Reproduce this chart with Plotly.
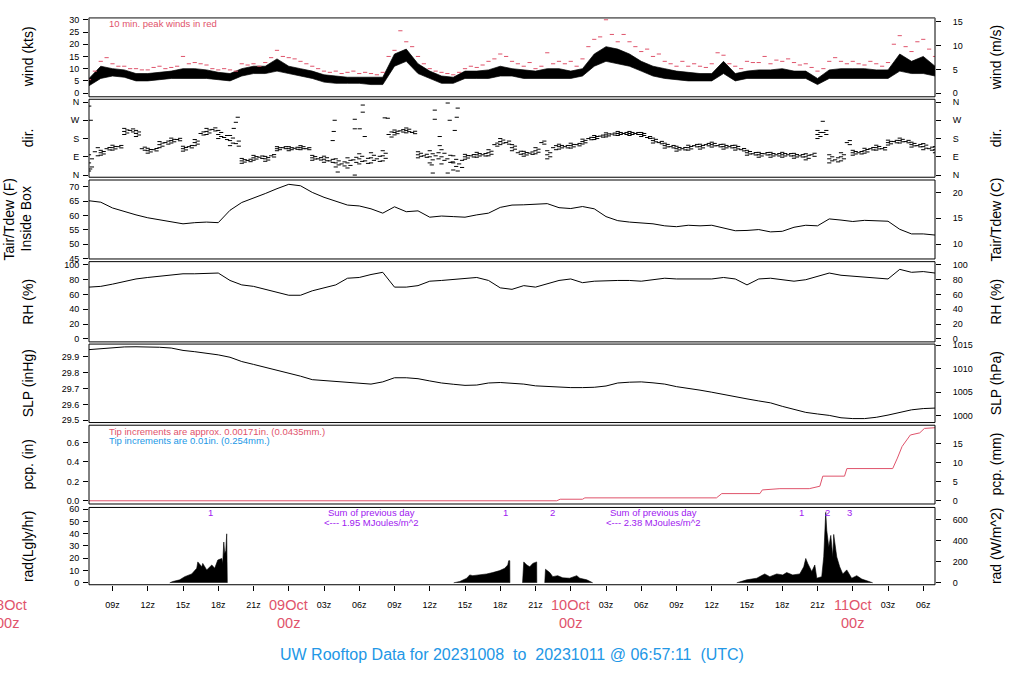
import plotly.graph_objects as go

# ---------------- data (hours after 2023-10-08 00z) ----------------
hours = list(range(7, 80))                      # hourly samples
half_hours = [7 + 0.5 * i for i in range(145)]  # 30-min samples

# wind speed band (kts): lower / upper edge of the 1-min trace
wind_lo = [3, 6, 7, 6.5, 5, 5, 5.5, 6, 6, 6, 6, 5.5, 5, 7, 8, 8, 9, 8, 7, 6, 4.5, 4, 4, 4, 3.5, 3.5,
           11, 13, 8, 6, 4, 4, 6, 6, 6, 7, 7, 6, 6, 6, 6, 6, 7, 11, 13, 12, 11, 9, 7, 6, 5.5, 5, 5, 5,
           8, 5, 6, 6, 6, 6, 6, 6, 3.5, 6, 6, 6, 6, 6, 6, 9, 8, 8, 7]
wind_hi = [6, 11, 10, 9.5, 8, 8, 8.5, 9, 10, 10, 9.5, 8.5, 8, 10, 11, 11, 14, 11, 10, 9, 7.5, 7, 6.5,
           6.5, 6.5, 6.5, 16, 18, 12, 9, 7, 6.5, 9, 9, 9.5, 11, 10, 9.5, 9, 10, 10, 9, 10, 16, 19, 18,
           16, 13, 11, 10, 9, 8.5, 8, 8, 13, 8, 9, 9.5, 9.5, 10, 9, 9, 6, 9.5, 10, 10, 10, 9.5, 9.5,
           16, 13, 15, 11]
# 10-min peak winds (kts), every 30 min
wind_peak = [5.5, 9, 13, 14.5, 12, 11, 11, 10, 10, 9.5, 9.5, 10.5, 11, 10, 10.5, 11, 15, 12, 12.5, 12,
             11.5, 10, 9.5, 10, 9.5, 9, 12, 11.5, 12, 11, 12.5, 14.5, 17.5, 15, 14.5, 14, 13, 12, 11, 10,
             9, 8.5, 9, 8, 8.5, 9, 8, 8.5, 8, 7.5, 8.5, 15, 17.5, 25.5, 21, 19, 15, 12, 10, 9, 8.5, 8,
             7.5, 8.5, 10, 11, 10.5, 11.5, 13, 14, 16, 15, 13, 12, 11, 12.5, 10, 11, 16.5, 12, 13, 12,
             13, 11, 14, 19, 22, 23, 30, 24, 21, 24, 21, 19, 17, 18, 15, 16, 13, 12, 11, 13, 11, 12, 11,
             10.5, 12, 16.5, 15.5, 12, 11, 10, 13, 12.5, 12.5, 15, 12, 13.5, 13, 14, 12.5, 11.5, 12,
             10.5, 9, 10, 13, 14.5, 13, 12, 13, 12, 11.5, 13, 12, 11, 12.5, 20, 23.5, 19, 17, 21, 22,
             18, 15]

# wind direction (deg), centre of the scatter every 30 min, and its hourly half-spread
dir_mid = [60, 115, 110, 130, 135, 140, 215, 220, 205, 130, 120, 125, 150, 160, 170, 175, 130, 140,
           160, 205, 215, 225, 200, 185, 170, 155, 70, 72, 85, 88, 80, 95, 130, 135, 130, 132, 135,
           130, 85, 80, 78, 70, 60, 55, 60, 75, 80, 70, 85, 80, 95, 200, 210, 218, 220, 210, 100, 95,
           90, 95, 90, 80, 60, 55, 90, 95, 100, 100, 110, 150, 165, 160, 135, 110, 105, 108, 120, 160,
           100, 135, 140, 140, 145, 150, 165, 180, 185, 192, 198, 202, 205, 205, 205, 205, 200, 185,
           170, 160, 145, 140, 130, 130, 135, 145, 140, 150, 150, 145, 140, 140, 135, 125, 110, 105,
           100, 105, 100, 100, 100, 100, 95, 95, 90, 100, 200, 210, 80, 75, 90, 160, 110, 110, 120,
           130, 135, 130, 160, 165, 170, 165, 150, 145, 140, 130, 125]
dir_spread = [40, 12, 12, 15, 15, 12, 15, 12, 12, 15, 15, 20, 25, 12, 12, 12, 10, 10, 10, 12, 15, 20,
              25, 25, 25, 25, 12, 12, 15, 30, 35, 35, 12, 12, 15, 15, 15, 12, 15, 20, 12, 12, 12, 10,
              10, 10, 10, 10, 12, 12, 12, 12, 12, 12, 12, 12, 12, 12, 12, 12, 12, 15, 20, 20, 20, 12,
              12, 12, 12, 12, 12, 15, 15]
dir_out_h = [7.02, 7.1, 7.15, 19.32, 19.5, 19.66, 27.74, 27.83, 27.91, 28.17, 29.62, 29.62, 29.62,
             30.04, 30.3, 30.3, 30.47, 32.17, 32.43, 36.17, 36.26, 36.43, 36.43, 36.85, 36.85, 37.53,
             37.53, 37.7, 37.96, 38.13, 38.38, 38.38, 38.3, 69.45]
dir_out_d = [340, 30, 270, 230, 260, 285, 170, 215, 270, 15, 275, 228, 0, 228, 345, 310, 190, 282,
             280, 50, 10, 320, 275, 190, 145, 355, 10, 270, 65, 220, 330, 20, 285, 265]

# air temperature inside box (F), hourly
tair_f = [65.1, 64.6, 62.6, 61.3, 60.2, 59.2, 58.5, 58.0, 57.1, 57.5, 57.7, 57.5, 61.8, 64.5, 66.0,
          67.6, 69.3, 70.8, 70.3, 68.0, 66.3, 65.0, 63.6, 63.3, 62.3, 60.8, 63.0, 61.3, 61.6, 59.4,
          59.8, 59.6, 59.4, 60.2, 60.8, 62.8, 63.6, 63.7, 64.0, 64.1, 62.7, 62.4, 63.1, 62.3, 59.6,
          58.2, 57.7, 57.3, 57.1, 56.4, 56.1, 56.6, 56.4, 56.6, 55.7, 54.7, 54.8, 55.1, 54.3, 54.5,
          55.9, 56.6, 56.4, 58.8, 58.4, 57.9, 58.3, 58.2, 58.0, 55.2, 53.6, 53.6, 53.2]
# relative humidity (%), hourly
rh = [70, 71, 74, 78, 81, 83, 85, 86, 88, 88, 89, 89, 79, 73, 71, 67, 63, 59, 59, 65, 69, 73, 82, 83,
      87, 90, 70, 70, 72, 78, 79, 80, 82, 83, 79, 69, 67, 72, 70, 74, 79, 81, 76, 78, 79, 79, 79, 78,
      80, 82, 81, 81, 81, 81, 83, 81, 73, 81, 82, 80, 78, 80, 84, 89, 86, 85, 83, 82, 81, 94, 90, 91, 89]
# sea-level pressure (inHg), hourly
slp = [29.945, 29.952, 29.958, 29.962, 29.963, 29.962, 29.960, 29.955, 29.940, 29.932, 29.922,
       29.912, 29.897, 29.870, 29.852, 29.834, 29.818, 29.800, 29.778, 29.756, 29.750, 29.742,
       29.737, 29.732, 29.728, 29.742, 29.768, 29.768, 29.762, 29.748, 29.735, 29.727, 29.720,
       29.722, 29.735, 29.738, 29.735, 29.728, 29.717, 29.712, 29.707, 29.706, 29.706, 29.708,
       29.716, 29.735, 29.740, 29.742, 29.736, 29.728, 29.712, 29.703, 29.690, 29.677, 29.662,
       29.648, 29.635, 29.622, 29.610, 29.588, 29.567, 29.550, 29.540, 29.531, 29.516, 29.511,
       29.511, 29.519, 29.533, 29.550, 29.566, 29.574, 29.577]
# accumulated precipitation (in)
pcp_h = [7, 46.8, 47.1, 49.0, 49.2, 60.4, 60.85, 64.1, 64.3, 65.8, 68.3, 69.0, 69.2, 69.45, 71.3,
         71.5, 75.4, 75.8, 76.2, 76.9, 77.7, 78.1, 79]
pcp_in = [0, 0, 0.016, 0.016, 0.03, 0.03, 0.074, 0.074, 0.112, 0.125, 0.125, 0.142, 0.150, 0.254,
          0.254, 0.332, 0.332, 0.44, 0.56, 0.678, 0.70, 0.746, 0.753]
# solar radiation (Langley/hr); None separates the sunlit stretches
rad_h = [13.87, 14.13, 14.72, 15.15, 15.74, 16.17, 16.26, 16.6, 16.68, 17.02, 17.45, 17.7, 17.96,
         18.3, 18.38, 18.47, 18.55, 18.64, 18.72, 18.77, None,
         38.04, 38.55, 39.15, 39.4, 39.66, 40.26, 40.85, 41.36, 41.96, 42.38, 42.64, 42.72, 42.81, 42.82, None,
         43.9, 43.95, 44.0, 44.26, 44.51, 44.77, 45.02, 45.1, 45.11, None,
         45.79, 45.85, 46.21, 46.47, 46.89, 47.32, 47.91, 48.51, 48.77, 49.36, 49.87, None,
         62.13, 62.98, 63.83, 64.51, 64.94, 65.53, 66.04, 66.38, 66.89, 67.49, 67.83, 68.0, 68.17,
         68.51, 68.77, 68.94, 69.36, 69.53, 69.7, 69.79, 69.96, 70.13, 70.3, 70.38, 70.64, 70.89,
         71.15, 71.49, 71.91, 72.34, 72.77, 73.7]
rad_v = [0, 1, 2.4, 5, 7.2, 11.8, 17, 13, 15.8, 10.5, 14.5, 11.8, 18.5, 19.8, 15.8, 33.2, 23.8, 26,
         39.9, 0, None,
         0, 1, 3.7, 6.4, 5.8, 6.4, 7.2, 8.3, 9.9, 11.8, 14.5, 18, 18, 0, None,
         0, 17, 17, 14.5, 13, 15.8, 17, 17, 0, None,
         0, 11, 8.3, 5, 5.8, 4, 3.7, 5.8, 3.7, 2.4, 0, None,
         0, 2.4, 3.7, 7.2, 5, 7.2, 6.4, 8.3, 6.4, 7.2, 13, 19.8, 15.8, 9.1, 14.5, 3.7, 5, 21.2, 57.4,
         42.6, 29.2, 38.6, 21, 39.4, 21, 13, 7.2, 10.5, 3.7, 5.8, 3, 0]
# radiation annotations: marker numbers and daily sums
rad_mark_h = [17.36, 42.44, 46.41, 67.63, 69.81, 71.69]
rad_mark_txt = ["1", "1", "2", "1", "2", "3"]
rad_sum_h = [31.0, 55.0]
rad_sum_txt = ["1.95", "2.38"]

x_tick_h = list(range(9, 79, 3))
day_h = [0, 24, 48, 72]
day_txt = ["08Oct", "09Oct", "10Oct", "11Oct"]

# ---------------- layout helpers ----------------
W, H = 1024, 700
X0, X1 = 89, 935
FONT = "Liberation Sans, Arial, Helvetica, sans-serif"
RED = "#DF536B"
BLUE = "#2297E6"
PURPLE = "#A020F0"


def px(x):
    return x / W


def py(y):
    return 1 - y / H


panels = [(14, 94), (96.5, 175.5), (178.3, 258.3), (261, 342.3), (344.5, 424), (426.7, 506.5),
          (510, 588.3)]
left_rng = [(-1.5, 30.8), (-10.7, 373.6), (44.9, 72.3), (-4, 104.4), (29.486, 29.98),
            (-0.033, 0.779), (-1.6, 61.4)]
convs = [lambda v: v * 0.514444, lambda v: v, lambda v: (v - 32) * 5 / 9, lambda v: v,
         lambda v: v * 33.8639, lambda v: v * 25.4, lambda v: v * 11.63]
left_ticks = [
    ([0, 5, 10, 15, 20, 25, 30], None),
    ([0, 90, 180, 270, 360], ["N", "E", "S", "W", "N"]),
    ([45, 50, 55, 60, 65, 70], None),
    ([0, 20, 40, 60, 80, 100], None),
    ([29.5, 29.6, 29.7, 29.8, 29.9], ["29.5", "29.6", "29.7", "29.8", "29.9"]),
    ([0, 0.2, 0.4, 0.6], ["0.0", "0.2", "0.4", "0.6"]),
    ([0, 10, 20, 30, 40, 50, 60], None),
]
right_ticks = [
    ([0, 5, 10, 15], None),
    ([0, 90, 180, 270, 360], ["N", "E", "S", "W", "N"]),
    ([10, 15, 20], None),
    ([0, 20, 40, 60, 80, 100], None),
    ([1000, 1005, 1010, 1015], None),
    ([0, 5, 10, 15], None),
    ([0, 200, 400, 600], None),
]
left_titles = ["wind (kts)", "dir.", None, "RH (%)", "SLP (inHg)", "pcp. (in)", "rad(Lgly/hr)"]
right_titles = ["wind (m/s)", "dir.", "Tair/Tdew (C)", "RH (%)", "SLP (hPa)", "pcp. (mm)",
                "rad (W/m^2)"]


def yref(i, right=False):
    n = 2 * i + 1 + (1 if right else 0)
    return "y" if n == 1 else f"y{n}"


fig = go.Figure()
skip = dict(hoverinfo="skip", showlegend=False)

# wind
fig.add_trace(go.Scatter(x=hours, y=wind_lo, mode="lines", line=dict(color="black", width=0.7),
                         yaxis=yref(0), **skip))
fig.add_trace(go.Scatter(x=hours, y=wind_hi, mode="lines", line=dict(color="black", width=0.7),
                         fill="tonexty", fillcolor="black", yaxis=yref(0), **skip))
fig.add_trace(go.Scatter(x=half_hours, y=wind_peak, mode="markers", yaxis=yref(0),
                         marker=dict(symbol="line-ew", size=3, line=dict(color=RED, width=1)),
                         **skip))

# direction
dash = dict(symbol="line-ew", size=3, line=dict(color="black", width=1))
fig.add_trace(go.Scatter(x=half_hours, y=dir_mid, mode="markers", marker=dash, yaxis=yref(1), **skip))
dir_hour_mid = dir_mid[::2]
fig.add_trace(go.Scatter(x=hours, y=[m + s for m, s in zip(dir_hour_mid, dir_spread)], mode="markers",
                         marker=dash, yaxis=yref(1), **skip))
fig.add_trace(go.Scatter(x=hours, y=[m - s for m, s in zip(dir_hour_mid, dir_spread)], mode="markers",
                         marker=dash, yaxis=yref(1), **skip))
half_spread = [dir_spread[min(i // 2, len(dir_spread) - 1)] / 2 for i in range(len(dir_mid))]
fig.add_trace(go.Scatter(x=[h + 0.25 for h in half_hours], y=[m + s for m, s in zip(dir_mid, half_spread)],
                         mode="markers", marker=dash, yaxis=yref(1), **skip))
fig.add_trace(go.Scatter(x=[h + 0.25 for h in half_hours], y=[m - s for m, s in zip(dir_mid, half_spread)],
                         mode="markers", marker=dash, yaxis=yref(1), **skip))
fig.add_trace(go.Scatter(x=dir_out_h, y=dir_out_d, mode="markers", marker=dash, yaxis=yref(1), **skip))

# temperature, RH, SLP
line = dict(color="black", width=1)
fig.add_trace(go.Scatter(x=hours, y=tair_f, mode="lines", line=line, yaxis=yref(2), **skip))
fig.add_trace(go.Scatter(x=hours, y=rh, mode="lines", line=line, yaxis=yref(3), **skip))
fig.add_trace(go.Scatter(x=hours, y=slp, mode="lines", line=line, yaxis=yref(4), **skip))
# precipitation
fig.add_trace(go.Scatter(x=pcp_h, y=pcp_in, mode="lines", line=dict(color=RED, width=1),
                         yaxis=yref(5), **skip))
# radiation (one filled trace per sunlit stretch)
seg_x, seg_y = [], []
for hx, vy in zip(rad_h + [None], rad_v + [None]):
    if hx is None:
        if seg_x:
            fig.add_trace(go.Scatter(x=seg_x, y=seg_y, mode="lines", fill="tozeroy",
                                     fillcolor="black", line=dict(color="black", width=0.6),
                                     yaxis=yref(6), **skip))
        seg_x, seg_y = [], []
    else:
        seg_x.append(hx)
        seg_y.append(vy)

# invisible anchors for right-hand axes
for i in range(7):
    lo, hi = left_rng[i]
    fig.add_trace(go.Scatter(x=[hours[0]], y=[convs[i]((lo + hi) / 2)], mode="markers",
                             marker=dict(opacity=0), yaxis=yref(i, True), **skip))

layout = dict(width=W, height=H, margin=dict(l=0, r=0, t=0, b=0), showlegend=False,
              plot_bgcolor="white", paper_bgcolor="white", font=dict(family=FONT, color="black"))
layout["xaxis"] = dict(domain=[px(X0), px(X1)], range=[7, 79], anchor=yref(6), showgrid=False,
                       zeroline=False, showline=False, ticks="outside", ticklen=5, tickwidth=1,
                       tickcolor="black", tickvals=x_tick_h,
                       ticktext=["" if h % 24 == 0 else f"{h % 24:02d}z" for h in x_tick_h],
                       tickfont=dict(size=9, family=FONT), ticklabelstandoff=6)
for i in range(7):
    top, bot = panels[i]
    lo, hi = left_rng[i]
    dom = [py(bot), py(top)]
    tv, tt = left_ticks[i]
    ax = dict(domain=dom, range=[lo, hi], anchor="x", side="left", showgrid=False, zeroline=False,
              showline=False, ticks="outside", ticklen=5, tickwidth=1, tickcolor="black",
              tickvals=tv, tickfont=dict(size=9, family=FONT), ticklabelstandoff=2)
    if tt:
        ax["ticktext"] = tt
    layout["yaxis" if i == 0 else f"yaxis{2 * i + 1}"] = ax
    tv, tt = right_ticks[i]
    axr = dict(range=[convs[i](lo), convs[i](hi)], anchor="x", overlaying=yref(i), side="right",
               showgrid=False, zeroline=False, showline=False, ticks="outside", ticklen=5,
               tickwidth=1, tickcolor="black", tickvals=tv, tickfont=dict(size=9, family=FONT),
               ticklabelstandoff=10)
    if tt:
        axr["ticktext"] = tt
    layout[f"yaxis{2 * i + 2}"] = axr

shapes = []
for k, (top, bot) in enumerate(panels):
    shapes.append(dict(type="rect", xref="paper", yref="paper", x0=px(X0), x1=px(X1), y0=py(bot),
                       y1=py(top), line=dict(color="black", width=1)))
# the uppermost frame edge is drawn grey in the original
shapes.append(dict(type="line", xref="paper", yref="paper", x0=px(X0), x1=px(X1), y0=py(14),
                   y1=py(14), line=dict(color="#808080", width=1.2)))
layout["shapes"] = shapes

ann = []
for i in range(7):
    top, bot = panels[i]
    yc = py((top + bot) / 2)
    if left_titles[i]:
        ann.append(dict(x=px(28), y=yc, text=left_titles[i]))
    ann.append(dict(x=px(996), y=yc, text=right_titles[i]))
ann.append(dict(x=px(9), y=py(218.3), text="Tair/Tdew (F)"))
ann.append(dict(x=px(26), y=py(218.3), text="Inside Box"))
for a in ann:
    a.update(xref="paper", yref="paper", textangle=-90, showarrow=False, xanchor="center",
             yanchor="middle", font=dict(size=14, family=FONT, color="black"))

ann.append(dict(x=px(107), y=py(20), xref="paper", yref="paper", xanchor="left", yanchor="middle",
                showarrow=False, text="10 min. peak winds in red",
                font=dict(size=9.5, family=FONT, color=RED)))
ann.append(dict(x=px(107), y=py(432.7), xref="paper", yref="paper", xanchor="left", yanchor="middle",
                showarrow=False, text="Tip increments are approx. 0.00171in. (0.0435mm.)",
                font=dict(size=9.5, family=FONT, color=RED)))
ann.append(dict(x=px(107), y=py(441.7), xref="paper", yref="paper", xanchor="left", yanchor="middle",
                showarrow=False, text="Tip increments are 0.01in. (0.254mm.)",
                font=dict(size=9.5, family=FONT, color=BLUE)))
pfont = dict(size=9.5, family=FONT, color=PURPLE)
for hx, t in zip(rad_mark_h, rad_mark_txt):
    ann.append(dict(x=hx, y=py(515), xref="x", yref="paper", xanchor="center", yanchor="middle",
                    text=t, showarrow=False, font=pfont))
for hx, t in zip(rad_sum_h, rad_sum_txt):
    ann.append(dict(x=hx, y=py(515), xref="x", yref="paper", xanchor="center", yanchor="middle",
                    text="Sum of previous day", showarrow=False, font=pfont))
    ann.append(dict(x=hx, y=py(525.7), xref="x", yref="paper", xanchor="center", yanchor="middle",
                    text=f"<--- {t} MJoules/m^2", showarrow=False, font=pfont))
for hx, t in zip(day_h, day_txt):
    xp = px(7 + 11.75 * hx) if hx < 7 else None
    base = dict(xref="paper" if xp is not None else "x", x=xp if xp is not None else hx,
                yref="paper", xanchor="center", yanchor="middle", showarrow=False,
                font=dict(size=14.5, family=FONT, color=RED))
    ann.append(dict(base, y=py(609), text=t))
    ann.append(dict(base, y=py(627), text="00z"))
ann.append(dict(x=0.5, y=py(659), xref="paper", yref="paper", xanchor="center", yanchor="middle",
                showarrow=False, text="UW Rooftop Data for 20231008  to  20231011 @ 06:57:11  (UTC)",
                font=dict(size=16, family=FONT, color=BLUE)))
layout["annotations"] = ann

fig.update_layout(**layout)
fig.write_html("out.html", config={"displayModeBar": False},
               post_script="document.body.style.margin='0px';document.body.style.overflow='hidden';")
